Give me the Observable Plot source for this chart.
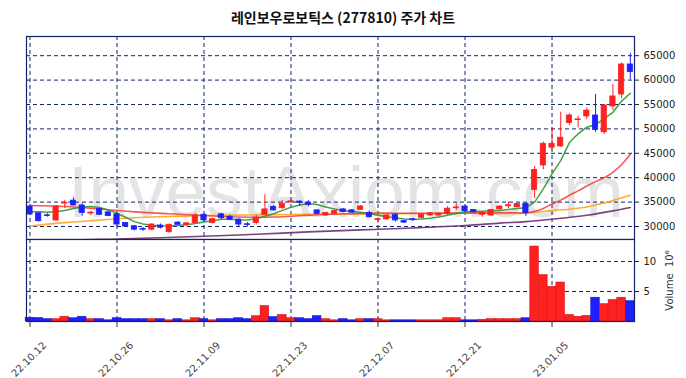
<!DOCTYPE html>
<html><head><meta charset="utf-8">
<script src="https://cdn.jsdelivr.net/npm/d3@7"></script>
<script src="https://cdn.jsdelivr.net/npm/@observablehq/plot@0.6"></script>
<style>
body{margin:0;background:#fff;}
#wrap{position:relative;width:686px;height:378px;overflow:hidden;background:#fff;}
#title{position:absolute;left:0;top:0;width:686px;height:34px;line-height:34px;text-align:center;font-family:"Noto Sans CJK KR";font-weight:bold;font-size:14px;color:#111;}
#price{position:absolute;left:0;top:0;}
#vol{position:absolute;left:0;top:237px;}
</style></head><body>
<div id="wrap"><div id="price"></div><div id="vol"></div><div id="title">레인보우로보틱스 (277810) 주가 차트</div></div>
<script>
// trading-day index 0 = 22.10.12 ... 69 = 23.01.18
const tickIdx = [0, 10, 20, 30, 40, 50, 60];
const tickLabels = ["22.10.12", "22.10.26", "22.11.09", "22.11.23", "22.12.07", "22.12.21", "23.01.05"];
const priceTicks = [30000, 35000, 40000, 45000, 50000, 55000, 60000, 65000];
const volTicks = [5, 10];

const open  = [34100,32700,32300,31230,34700,35300,34300,32650,33600,32900,32500,30700,30050,29500,29350,30200,28850,30800,30300,30700,
               32400,30700,32500,32000,31400,30450,30700,32400,34000,33750,34950,35100,34900,33300,32250,32600,33500,33300,33420,32800,
               31350,31450,32400,31100,31500,31780,32250,32250,32600,33750,34100,33400,32400,32250,33500,34150,33950,34650,37500,42500,
               46150,46400,51200,51800,52550,52750,49300,54600,57050,63200];
const high  = [34300,32800,32600,34300,35350,35900,34700,33100,33700,33100,32700,30800,30200,29800,30600,30500,30500,31000,30800,32700,
               32600,31700,32700,32300,31600,30800,32300,36500,34300,35300,35400,35300,35300,33400,32900,33300,33700,33500,34300,33200,
               31780,32400,32600,31200,31700,32600,32900,32800,34100,34650,34200,33500,33000,33500,34200,35000,34700,34800,42300,47300,
               50200,53400,53100,52550,54300,57050,55000,59100,63500,65500];
const low   = [32300,30900,31900,31000,33650,34200,32100,32200,32300,32000,29900,29800,29100,29000,29100,29500,28600,30200,30100,30500,
               31000,30500,31400,31200,29950,29900,30300,32300,33100,33500,34800,34100,34000,32400,32100,32400,32800,32700,33300,31700,
               30700,31300,30900,30650,31000,31600,32100,32000,32300,33300,33000,32800,31900,32100,33400,33700,33900,32050,35700,41600,
               45600,46200,50700,50200,51900,49300,48850,53800,56200,60050];
const close = [32460,31100,32150,34100,34850,34300,32750,32850,32400,32150,30400,30000,29350,29350,30400,29750,30350,30350,30650,32250,
               31250,31500,31700,31400,30400,30300,31800,33500,33300,34650,35150,34850,34400,32600,32800,33150,32950,32850,34100,31900,
               31500,32250,31250,30800,31350,32400,32700,32600,33650,33900,33100,32900,32800,33400,34100,34350,34600,32750,41600,46950,
               46950,48200,52750,51950,53750,49800,54800,56650,63200,61650];
// volume, millions of shares
const volume = [0.63,0.6,0.4,0.4,0.8,0.55,0.8,0.4,0.4,0.2,0.55,0.4,0.4,0.4,0.4,0.4,0.2,0.4,0.2,0.55,
                0.4,0.2,0.4,0.4,0.55,0.4,0.9,2.6,0.75,1.1,0.55,0.55,0.4,0.9,0.4,0.2,0.4,0.2,0.4,0.4,
                0.4,0.2,0.2,0.2,0.2,0.2,0.2,0.2,0.55,0.55,0.2,0.2,0.3,0.4,0.4,0.4,0.4,0.55,12.5,7.75,
                5.8,6.5,1.1,0.8,0.95,3.97,2.9,3.6,3.97,3.4];

// moving averages
const ma5 = [33000,33000,32900,33000,33300,33700,34000,34100,33900,33400,32700,31900,31000,30500,30250,30150,30100,30200,30350,30600,
             30900,31200,31500,31500,31400,31350,31600,32100,32600,33300,33950,34400,34650,34500,34000,33600,33250,33050,32900,32600,
             32300,32000,31800,31550,31450,31550,31700,31950,32300,32650,32950,33100,33150,33250,33300,33500,33700,33850,35000,37700,
             40800,43500,47200,49000,50350,50900,52100,53400,55700,57300];
const ma20At = [0,4,8,12,16,20,24,28,32,36,40,44,48,52,55,57,58,59,60,61,62,63,64,65,66,67,68,69];
const ma20   = [34300,34100,33600,33000,32600,32250,31950,31950,32300,32600,32750,32700,32750,32800,32850,32800,33100,33700,34600,35400,36400,37300,38300,39200,40000,41100,42700,44800];
const ma60At = [0,4,8,12,16,20,25,30,35,40,45,50,54,57,60,62,64,65,66,67,68,69];
const ma60   = [30100,30800,31300,31800,32050,32250,32350,32450,32550,32600,32650,32700,32650,32750,33250,33550,34000,34400,34800,35300,35850,36400];
const ma120At = [0,5,10,15,20,26,32,38,44,50,54,57,60,64,67,69];
const ma120   = [26800,27250,27450,27700,28000,28400,28900,29300,29700,30200,30700,31000,31500,32300,33200,33900];

const idx = d3.range(open.length);
const RED = "#ff2020", BLUE = "#1f1fff", NAVY = "#10256a";
const colorOf = i => close[i] >= open[i] ? RED : BLUE;
const edgeOf = i => close[i] >= open[i] ? "#d01010" : "#1010c8";
const xDomain = [-0.4, 69.48];
const pts = (at, v) => at.map((x, k) => ({x, y: v[k]}));
const style = {fontFamily: "DejaVu Sans", fontSize: "10px", background: "transparent"};
const dash = {stroke: NAVY, strokeOpacity: 1, strokeDasharray: "4,3", strokeWidth: 1};

const price = Plot.plot({
  width: 686, height: 240,
  marginTop: 36, marginBottom: 1, marginLeft: 26, marginRight: 52,
  style,
  x: {domain: xDomain, axis: null},
  y: {domain: [27336, 68934], axis: null},
  marks: [
    Plot.text(["InvestAxiom.com"], {text: d => d, frameAnchor: "middle", dx: 15.5, dy: 56, lineAnchor: "middle",
      fontSize: 73, fontFamily: "Liberation Sans", fill: "#e4e4e4"}),
    Plot.gridX(tickIdx, dash),
    Plot.gridY(priceTicks, dash),
    Plot.line(pts(ma120At, ma120), {x: "x", y: "y", stroke: "#6e2f6b", strokeWidth: 1.6, strokeOpacity: 0.9, curve: "catmull-rom", clip: true}),
    Plot.line(pts(ma60At, ma60), {x: "x", y: "y", stroke: "#ffa520", strokeWidth: 1.6, strokeOpacity: 0.9, curve: "catmull-rom", clip: true}),
    Plot.line(pts(ma20At, ma20), {x: "x", y: "y", stroke: "#f03c3c", strokeWidth: 1.6, strokeOpacity: 0.85, curve: "catmull-rom", clip: true}),
    Plot.line(ma5, {x: (d, i) => i, y: d => d, stroke: "#2f962f", strokeWidth: 1.5, strokeOpacity: 0.9, clip: true}),
    Plot.ruleX(idx, {x: i => i, y1: i => low[i], y2: i => high[i], stroke: colorOf, strokeWidth: 1}),
    Plot.rect(idx, {x1: i => i - 0.3, x2: i => i + 0.3, y1: i => open[i], y2: i => close[i], fill: colorOf, stroke: colorOf, strokeWidth: 0.8}),
    Plot.axisY(priceTicks, {anchor: "right", tickSize: 4, tickPadding: 5, tickFormat: d3.format("d"), label: null, color: "#222"}),
    Plot.frame({stroke: NAVY, strokeWidth: 1.2})
  ]
});
document.getElementById("price").appendChild(price);

const vol = Plot.plot({
  width: 686, height: 141,
  marginTop: 2, marginBottom: 57, marginLeft: 26, marginRight: 52,
  style,
  x: {domain: xDomain, axis: null},
  y: {domain: [0, 13.67], axis: null},
  marks: [
    Plot.gridX(tickIdx, dash),
    Plot.gridY(volTicks, dash),
    Plot.rect(idx, {x1: i => i - 0.5, x2: i => i + 0.5, y1: 0, y2: i => volume[i], fill: colorOf, stroke: edgeOf, strokeWidth: 0.5}),
    Plot.axisY(volTicks, {anchor: "right", tickSize: 4, tickPadding: 5, label: null, color: "#222"}),
    Plot.axisX(tickIdx, {anchor: "bottom", tickSize: 6, tickFormat: () => "", label: null, color: "#333"}),
    Plot.text(tickIdx, {x: d => d, text: (d, i) => tickLabels[i], frameAnchor: "bottom", dy: 38, dx: -1,
      rotate: -45, textAnchor: "middle", lineAnchor: "middle", fill: "#444", fontSize: 10}),
    Plot.text(["Volume  10\u2076"], {text: d => d, frameAnchor: "right", dx: 35, rotate: -90,
      textAnchor: "middle", lineAnchor: "middle", fill: "#333", fontSize: 10}),
    Plot.frame({stroke: NAVY, strokeWidth: 1.2})
  ]
});
document.getElementById("vol").appendChild(vol);
</script>
</body></html>
